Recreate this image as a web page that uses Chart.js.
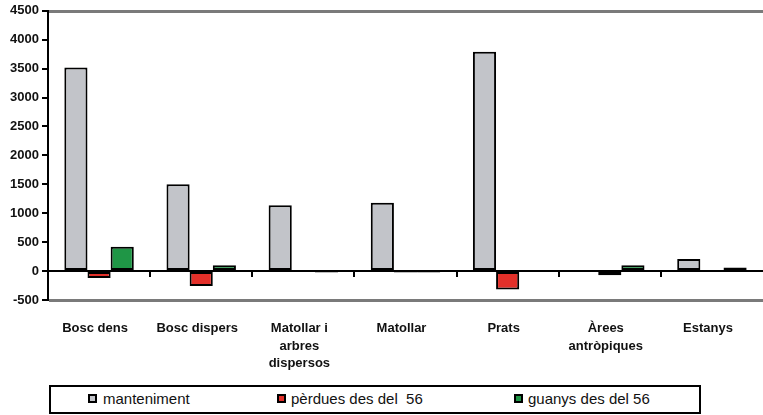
<!DOCTYPE html>
<html>
<head>
<meta charset="utf-8">
<script src="https://cdn.jsdelivr.net/npm/chart.js@4.4.0/dist/chart.umd.min.js"></script>
<style>
  body { margin: 0; background: #fff; width: 763px; height: 415px; position: relative; overflow: hidden; }
  #wrap { position: absolute; left: 0; top: 0; width: 763px; height: 375px; }
  #llegenda { position: absolute; left: 49px; top: 385px; width: 652px; height: 29px; box-sizing: border-box;
    border: 2px solid #000; font-family: "Liberation Sans", Arial, sans-serif; font-size: 15px; color: #111; }
  .item { position: absolute; top: 3px; white-space: pre; }
  .marca { position: absolute; top: 7px; width: 9px; height: 9px; box-sizing: border-box; border: 2px solid #000; }
</style>
</head>
<body>
<div id="wrap"><canvas id="grafica" width="763" height="375"></canvas></div>
<div id="llegenda"></div>
<script>
// categories (usos del sol) i series
const categories = [
  "Bosc dens",
  "Bosc dispers",
  ["Matollar i", "arbres", "dispersos"],
  "Matollar",
  "Prats",
  ["Àrees", "antròpiques"],
  "Estanys"
];
const manteniment = [3520, 1500, 1140, 1180, 3790, -15, 210];
const perdues = [-120, -260, -15, -25, -320, -70, -5];
const guanys = [420, 100, -25, -25, -15, 100, 60];
const yTicks = [-500, 0, 500, 1000, 1500, 2000, 2500, 3000, 3500, 4000, 4500];

const series = [
  { label: "manteniment", data: manteniment, color: "#c2c4c9", legendX: 37, textX: 52 },
  { label: "pèrdues des del  56", data: perdues, color: "#e3302a", legendX: 226, textX: 240 },
  { label: "guanys des del 56", data: guanys, color: "#1f9646", legendX: 463, textX: 477 }
];

const font = "'Liberation Sans', Arial, sans-serif";

// linies grises a dalt i a baix, linia del zero i marques entre categories
const marc = {
  id: "marc",
  afterDraw(chart) {
    const { ctx, chartArea, scales } = chart;
    const y = scales.y;
    const x = scales.x;
    const w = chartArea.right - chartArea.left;
    ctx.save();
    ctx.fillStyle = "#7a7a7a";
    const yTop = Math.round(y.getPixelForValue(yTicks[yTicks.length - 1]));
    const yBot = Math.round(y.getPixelForValue(yTicks[0]));
    ctx.fillRect(chartArea.left + 1, yTop - 1, w, 3);
    ctx.fillRect(chartArea.left + 1, yBot - 1, w, 3);
    const y0 = Math.round(y.getPixelForValue(0));
    ctx.fillStyle = "#000";
    ctx.fillRect(chartArea.left, y0 - 1, w, 2);
    for (let i = 1; i < categories.length; i++) {
      const px = Math.round((x.getPixelForValue(i - 1) + x.getPixelForValue(i)) / 2);
      ctx.fillRect(px - 1, y0, 2, 6);
    }
    ctx.restore();
  }
};

const data = {
  labels: categories,
  datasets: series.map((s) => ({
    label: s.label,
    data: s.data,
    backgroundColor: s.color,
    borderColor: "#000",
    borderWidth: 2,
    borderSkipped: false,
    categoryPercentage: 0.68,
    barPercentage: 1
  }))
};

const config = {
  type: "bar",
  data: data,
  plugins: [marc],
  options: {
    responsive: false,
    animation: false,
    devicePixelRatio: 1,
    layout: { padding: { top: 3, right: 0, left: 0, bottom: 0 } },
    plugins: { legend: { display: false }, tooltip: { enabled: false } },
    scales: {
      x: {
        grid: { display: false },
        border: { display: false },
        ticks: {
          color: "#111",
          font: { family: font, size: 13, weight: "bold", lineHeight: 1.35 },
          padding: 12,
          labelOffset: -4,
          maxRotation: 0,
          autoSkip: false
        },
        afterFit: (scale) => { scale.height = 75; }
      },
      y: {
        min: -500,
        max: 4500,
        afterBuildTicks: (scale) => { scale.ticks = yTicks.map((v) => ({ value: v })); },
        ticks: {
          color: "#111",
          font: { family: font, size: 13, weight: "bold" },
          padding: 3,
          callback: (value) => String(value)
        },
        grid: {
          drawOnChartArea: false,
          lineWidth: 2,
          tickLength: 6,
          tickColor: "#000"
        },
        border: { color: "#000", width: 2 },
        afterFit: (scale) => { scale.width = 48; }
      }
    }
  }
};

new Chart(document.getElementById("grafica"), config);

// llegenda a sota amb el requadre
const llegenda = document.getElementById("llegenda");
series.forEach((s) => {
  const m = document.createElement("div");
  m.className = "marca";
  m.style.left = s.legendX + "px";
  m.style.background = s.color;
  llegenda.appendChild(m);
  const t = document.createElement("div");
  t.className = "item";
  t.style.left = s.textX + "px";
  t.textContent = s.label;
  llegenda.appendChild(t);
});
</script>
</body>
</html>
